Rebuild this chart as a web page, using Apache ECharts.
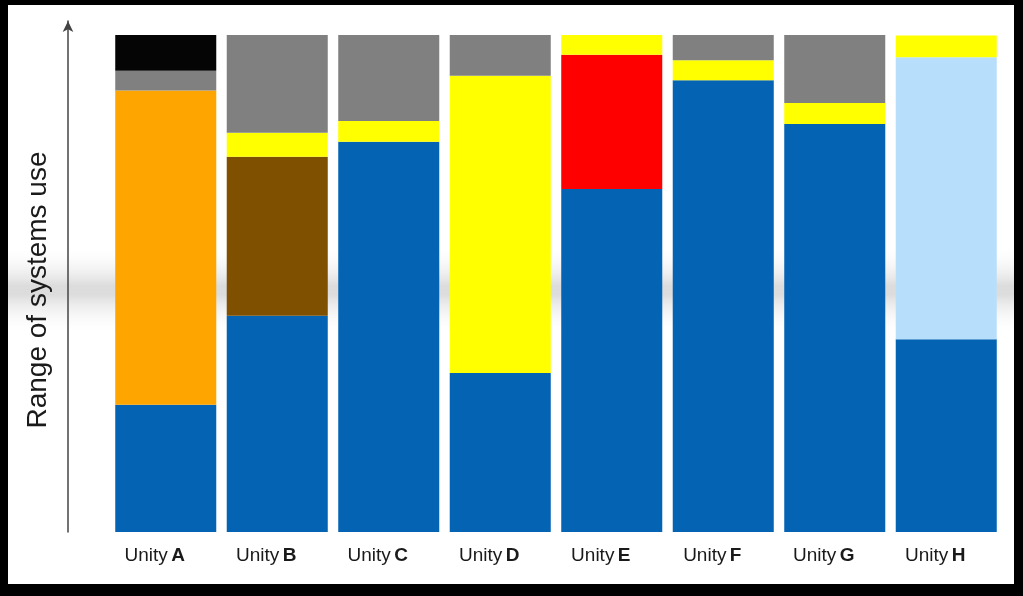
<!DOCTYPE html>
<html>
<head>
<meta charset="utf-8">
<script src="https://cdn.jsdelivr.net/npm/echarts@6/dist/echarts.min.js"></script>
<style>
html,body{margin:0;padding:0;background:#000;}
#c{width:1023px;height:596px;}
</style>
</head>
<body>
<div id="c"></div>
<script>
var categories = ['A','B','C','D','E','F','G','H'];
var blueVals      = [25.6, 43.5, 78.5, 32.0, 69.0, 90.9, 82.1, 38.8];
var orangeVals    = [63.2, 0, 0, 0, 0, 0, 0, 0];
var brownVals     = [0, 32.0, 0, 0, 0, 0, 0, 0];
var redVals       = [0, 0, 0, 0, 27.0, 0, 0, 0];
var lightBlueVals = [0, 0, 0, 0, 0, 0, 0, 56.7];
var yellowVals    = [0, 4.8, 4.2, 59.8, 4.0, 4.0, 4.2, 4.4];
var grayVals      = [4.0, 19.7, 17.3, 8.2, 0, 5.1, 13.7, 0];
var blackVals     = [7.2, 0, 0, 0, 0, 0, 0, 0];
var yAxisTitle = 'Range of systems use';

var chart = echarts.init(document.getElementById('c'), null, {renderer:'canvas'});

function s(name, data, color) {
  return {
    name: name, type: 'bar', stack: 'total', data: data,
    barCategoryGap: '9.4%',
    itemStyle: {color: color},
    emphasis: {disabled: true}
  };
}

chart.setOption({
  backgroundColor: '#000',
  animation: false,
  graphic: [
    {type:'rect', z:-10, shape:{x:8,y:5,width:1006,height:579}, style:{fill:'#fff'}},
    {type:'rect', z:-9, shape:{x:8,y:245,width:1006,height:90},
      style:{fill:new echarts.graphic.LinearGradient(0,0,0,1,[
        {offset:0,color:'rgba(255,255,255,0)'},
        {offset:0.45,color:'rgba(150,150,150,0.33)'},
        {offset:0.55,color:'rgba(150,150,150,0.33)'},
        {offset:1,color:'rgba(255,255,255,0)'}
      ])}},
    {type:'text', x:38, y:290, rotation:Math.PI/2,
      style:{text:yAxisTitle, font:'28px "Liberation Sans", Arial, sans-serif', fill:'#1a1a1a', align:'center', verticalAlign:'middle'}}
  ],
  grid: {left:110, right:21, top:21, bottom:64},
  xAxis: {
    type:'category', data: categories,
    axisLine:{show:false}, axisTick:{show:false},
    axisLabel:{
      margin:14,
      padding:[0,22,0,0],
      formatter: function(v){ return '{n|Unity} {b|' + v + '}'; },
      rich:{
        n:{fontFamily:'"Liberation Sans", Arial, sans-serif', fontSize:19, color:'#1a1a1a'},
        b:{fontFamily:'"Liberation Sans", Arial, sans-serif', fontSize:19, fontWeight:'bold', color:'#1a1a1a'}
      }
    }
  },
  yAxis: {
    type:'value', min:0, max:102.8, offset:42,
    splitLine:{show:false}, axisTick:{show:false}, axisLabel:{show:false},
    axisLine:{show:true, lineStyle:{color:'#444', width:1.5}, symbol:['none','arrow'], symbolSize:[8,11]}
  },
  series: [
    s('Blue', blueVals, '#0563B4'),
    s('Orange', orangeVals, '#FFA500'),
    s('Brown', brownVals, '#7F5000'),
    s('Red', redVals, '#FF0000'),
    s('Light blue', lightBlueVals, '#B7DEFB'),
    s('Yellow', yellowVals, '#FFFF00'),
    s('Gray', grayVals, '#808080'),
    s('Black', blackVals, '#050505')
  ]
});
</script>
</body>
</html>
